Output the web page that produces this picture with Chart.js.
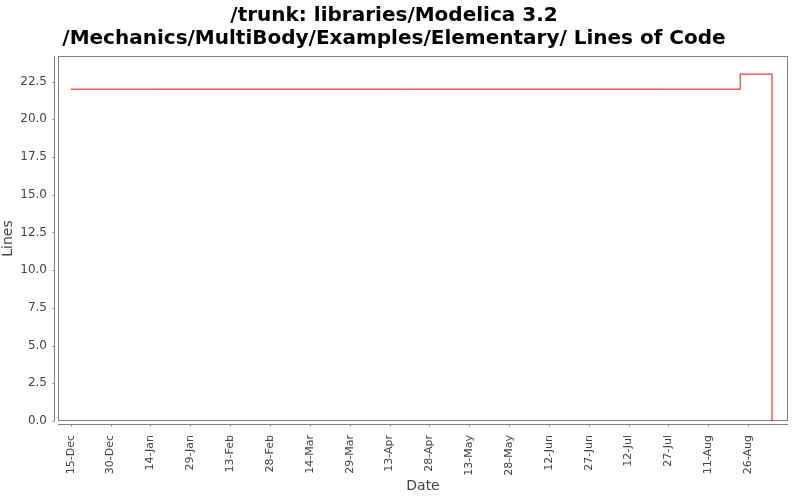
<!DOCTYPE html>
<html>
<head>
<meta charset="utf-8">
<script src="https://cdn.jsdelivr.net/npm/chart.js@4"></script>
<style>
  html, body { margin: 0; padding: 0; background: #fff; }
  #wrap { width: 800px; height: 500px; }
</style>
</head>
<body>
<div id="wrap"><canvas id="loc-chart" width="800" height="500"></canvas></div>
<script>
// data (days counted from 15-Dec-2011)
const startDate = '2011-12-15';
const changeDates = ['2011-12-15', '2012-08-23', '2012-09-04'];
const lineCounts = [22, 23, 0];
const tickLabels = ['15-Dec', '30-Dec', '14-Jan', '29-Jan', '13-Feb', '28-Feb', '14-Mar', '29-Mar',
    '13-Apr', '28-Apr', '13-May', '28-May', '12-Jun', '27-Jun', '12-Jul', '27-Jul', '11-Aug', '26-Aug'];
const tickStep = 15;
const xMin = -4.8, xMax = 270;
const yMax = 24.2;

function dayOffset(d) {
    return (Date.parse(d) - Date.parse(startDate)) / 86400000;
}

const points = changeDates.map((d, i) => ({ x: dayOffset(d), y: lineCounts[i] }));

const GRAY = '#808080';
const TEXT = '#444444';

// JFreeChart style frame: plot border plus axis lines offset by 4px
const framePlugin = {
    id: 'frame',
    beforeDatasetsDraw(chart) {
        const { ctx, chartArea: a, scales } = chart;
        ctx.save();
        ctx.strokeStyle = GRAY;
        ctx.lineWidth = 1;
        ctx.strokeRect(Math.round(a.left) + 0.5, Math.round(a.top) + 0.5,
            Math.round(a.right - a.left) - 1, Math.round(a.bottom - a.top) - 1);

        const ax = Math.round(a.left) - 3.5;
        const ay = Math.round(a.bottom) + 3.5;
        ctx.beginPath();
        ctx.moveTo(ax, a.top);
        ctx.lineTo(ax, a.bottom);
        ctx.moveTo(a.left, ay);
        ctx.lineTo(a.right, ay);
        scales.y.ticks.forEach(t => {
            const py = Math.round(scales.y.getPixelForValue(t.value)) + 0.5;
            ctx.moveTo(ax - 2, py);
            ctx.lineTo(ax, py);
        });
        scales.x.ticks.forEach(t => {
            const px = Math.round(scales.x.getPixelForValue(t.value)) + 0.5;
            ctx.moveTo(px, ay);
            ctx.lineTo(px, ay + 2);
        });
        ctx.stroke();
        ctx.restore();
    }
};

const chartCanvas = document.getElementById('loc-chart');
const chartContext = chartCanvas.getContext('2d');

window.locChart = new Chart(chartContext, {
    type: 'line',
    data: {
        datasets: [{
            label: 'Lines',
            data: points,
            stepped: 'before',
            borderColor: '#ff0000',
            borderWidth: 1,
            pointRadius: 0,
            fill: false
        }]
    },
    options: {
        responsive: false,
        animation: false,
        layout: { padding: { left: 0, right: 12, top: 0, bottom: 0 } },
        plugins: {
            legend: { display: false },
            tooltip: { enabled: false },
            title: {
                display: true,
                text: ['/trunk: libraries/Modelica 3.2', '/Mechanics/MultiBody/Examples/Elementary/ Lines of Code'],
                color: '#000000',
                font: { family: 'DejaVu Sans', size: 20, weight: 'bold', lineHeight: 1.15 },
                padding: { top: 4, bottom: 6 }
            }
        },
        scales: {
            x: {
                type: 'linear',
                min: xMin,
                max: xMax,
                grid: { display: false, drawTicks: false },
                border: { display: false },
                afterBuildTicks: axis => {
                    axis.ticks = tickLabels.map((l, i) => ({ value: i * tickStep }));
                },
                afterFit: axis => { axis.height = 79; },
                ticks: {
                    autoSkip: false,
                    minRotation: 90,
                    maxRotation: 90,
                    padding: 14,
                    color: TEXT,
                    font: { family: 'DejaVu Sans', size: 11 },
                    callback: (v, i) => tickLabels[i]
                },
                title: {
                    display: true,
                    text: 'Date',
                    color: TEXT,
                    font: { family: 'DejaVu Sans', size: 14 },
                    padding: { top: 0, bottom: 5 }
                }
            },
            y: {
                min: 0,
                max: yMax,
                grid: { display: false, drawTicks: false },
                border: { display: false },
                afterFit: axis => { axis.width = 58; },
                ticks: {
                    stepSize: 2.5,
                    padding: 11,
                    color: TEXT,
                    font: { family: 'DejaVu Sans', size: 12 },
                    callback: v => v.toFixed(1)
                },
                afterBuildTicks: axis => {
                    axis.ticks = axis.ticks.filter(t => t.value <= 22.5);
                },
                title: {
                    display: true,
                    text: 'Lines',
                    color: TEXT,
                    font: { family: 'DejaVu Sans', size: 14 },
                    padding: { top: 0, bottom: 0 }
                }
            }
        }
    },
    plugins: [framePlugin]
});
</script>
</body>
</html>
